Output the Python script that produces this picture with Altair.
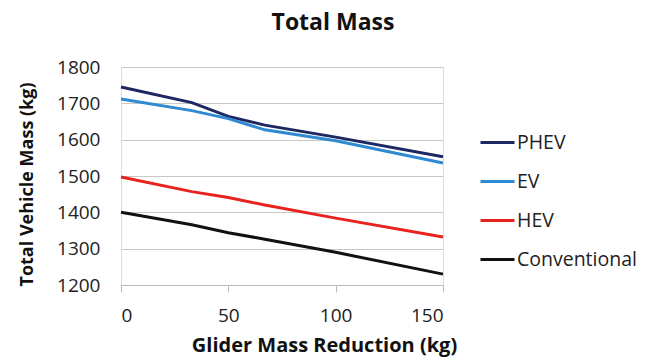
import altair as alt
import pandas as pd

# Glider mass reduction (kg)
reduction = [0, 33, 50, 67, 100, 150]
# Total vehicle mass (kg) per powertrain
phev = [1745, 1702, 1664, 1640, 1607, 1553]
ev = [1712, 1680, 1658, 1627, 1597, 1536]
hev = [1497, 1457, 1441, 1420, 1384, 1332]
conventional = [1400, 1366, 1344, 1326, 1290, 1230]

series = ["PHEV", "EV", "HEV", "Conventional"]
colors = ["#1d2762", "#2f8ad3", "#e8231f", "#111111"]

rows = []
for name, vals in zip(series, [phev, ev, hev, conventional]):
    for x, v in zip(reduction, vals):
        rows.append({"Reduction": x, "Mass": v, "Type": name})
df = pd.DataFrame(rows)

FONT = "Open Sans"

chart = (
    alt.Chart(df)
    .mark_line(strokeWidth=3)
    .encode(
        x=alt.X(
            "Reduction:Q",
            scale=alt.Scale(domain=[0, 150], nice=False, zero=False),
            axis=alt.Axis(
                title="Glider Mass Reduction (kg)",
                values=[0, 50, 100, 150],
                format="d",
                grid=False,
                domainColor="#bbbbbb",
                tickColor="#bbbbbb",
                tickSize=7,
                labelPadding=14,
                labelFontSize=19,
                labelColor="#222222",
                titleFontSize=20,
                titleFontWeight="bold",
                titleColor="#111111",
                titleX=203,
                titleY=66,
                titleAlign="center",
                titleBaseline="alphabetic",
            ),
        ),
        y=alt.Y(
            "Mass:Q",
            scale=alt.Scale(domain=[1200, 1800], nice=False, zero=False),
            axis=alt.Axis(
                title="Total Vehicle Mass (kg)",
                values=[1200, 1300, 1400, 1500, 1600, 1700, 1800],
                format="d",
                domain=False,
                ticks=False,
                gridColor="#c8c8c8",
                labelPadding=21,
                labelFontSize=19,
                labelColor="#222222",
                titleFontSize=18,
                titleFontWeight="bold",
                titleColor="#111111",
                titleAngle=270,
                titleX=-89,
                titleY=117,
                titleAlign="center",
                titleBaseline="alphabetic",
            ),
        ),
        color=alt.Color(
            "Type:N",
            scale=alt.Scale(domain=series, range=colors),
            sort=series,
            legend=alt.Legend(
                title=None,
                orient="none",
                legendX=358,
                legendY=57,
                symbolType="stroke",
                symbolStrokeWidth=3,
                symbolSize=1156,
                labelFontSize=19.5,
                labelColor="#222222",
                labelOffset=1,
                rowPadding=11,
            ),
        ),
    )
    .properties(
        width=322,
        height=218,
        title=alt.TitleParams(
            "Total Mass",
            fontSize=23,
            fontWeight="bold",
            anchor="middle",
            color="#111111",
            offset=23,
            dx=51,
        ),
        autosize=alt.AutoSizeParams(type="none"),
        padding={"left": 121, "top": 67, "right": 203, "bottom": 77},
    )
    .configure_view(stroke=None)
    .configure(font=FONT)
)

chart.save("out.html", embed_options={"renderer": "svg", "actions": False})
